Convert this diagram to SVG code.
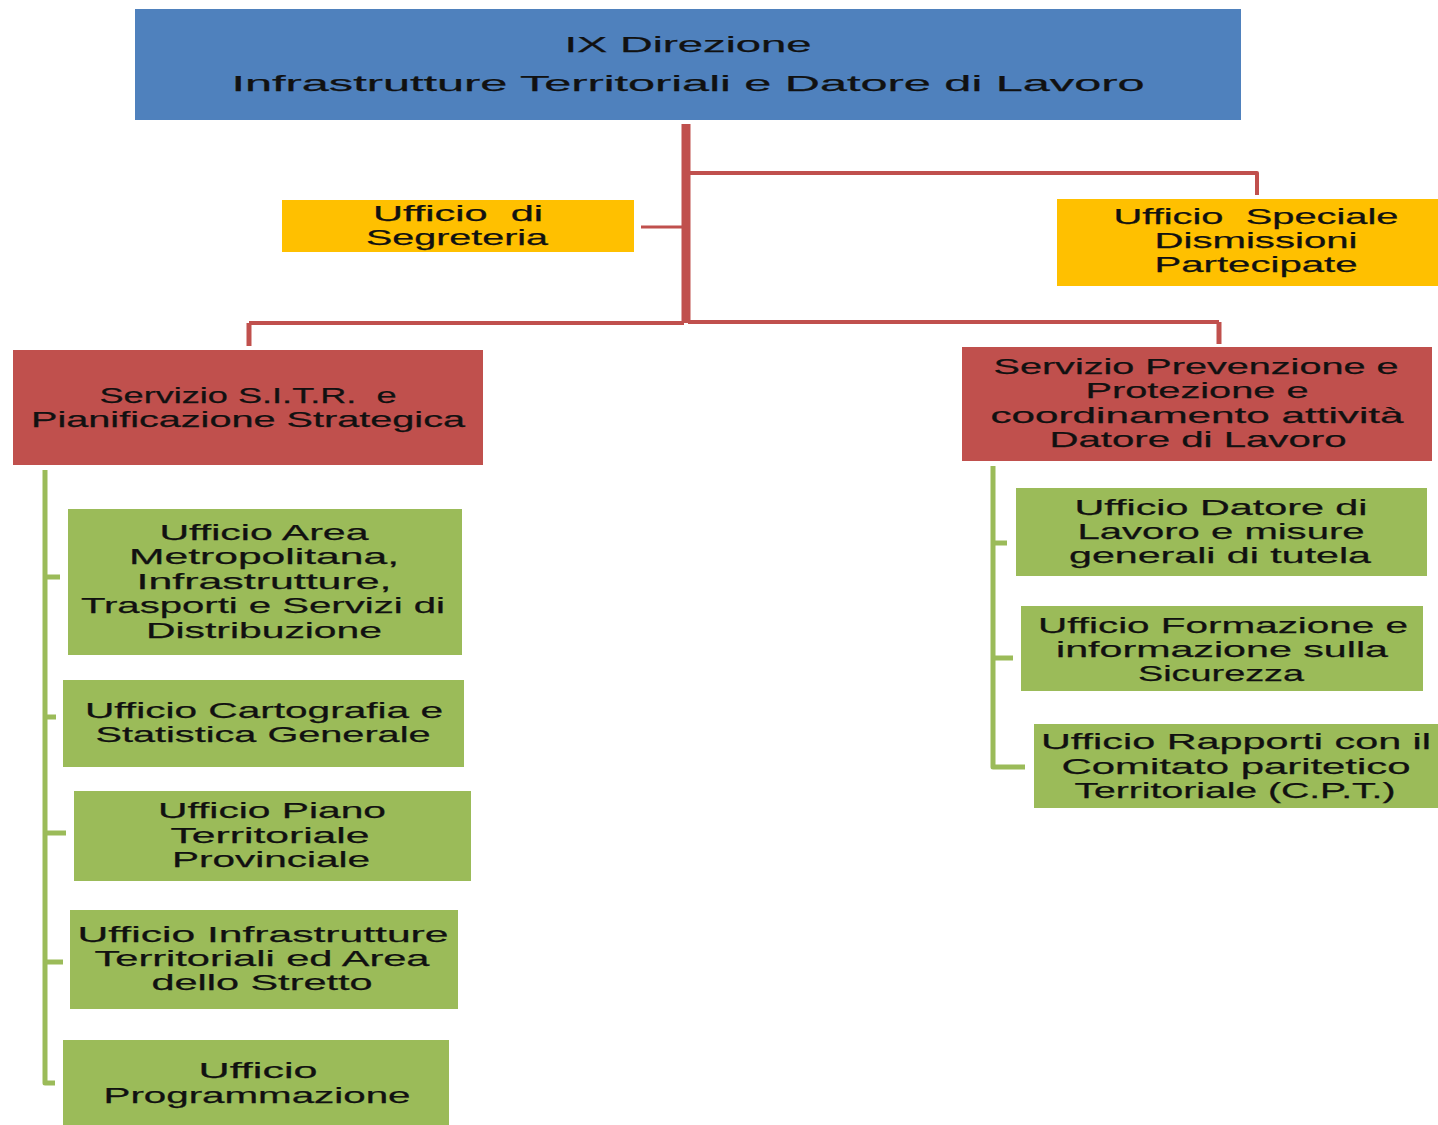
<svg xmlns="http://www.w3.org/2000/svg" width="1438" height="1125" viewBox="0 0 1438 1125">
<style>
.t{font-family:"Liberation Sans","Open Sans",sans-serif;font-size:22px;fill:#111;stroke:#111;stroke-width:0.25;text-anchor:middle;white-space:pre}
.blue{fill:#4f81bd}
.gold{fill:#ffc000}
.red{fill:#c0504d}
.green{fill:#9bbb59}
.rc{fill:none;stroke:#c0504d;stroke-linejoin:round}
.gc{fill:none;stroke:#9bbb59;stroke-width:5;stroke-linejoin:round}
</style>
<rect width="1438" height="1125" fill="#fff"/>
<g id="connectors">
<path class="rc" stroke-width="9" d="M686 124V323"/>
<path class="rc" stroke-width="4" d="M690 173H1257V195"/>
<path class="rc" stroke-width="3" d="M641 227H682"/>
<path class="rc" stroke-width="4" d="M684 323H249"/>
<path class="rc" stroke-width="5" d="M249 323V346"/>
<path class="rc" stroke-width="4" d="M688 322H1219"/>
<path class="rc" stroke-width="5" d="M1219 322V344"/>
<path class="gc" d="M45 470V1083H55"/>
<path class="gc" d="M45 577H60M45 717H56M45 833H66M45 962H63"/>
<path class="gc" d="M993 466V767H1025"/>
<path class="gc" d="M993 543H1007M993 658H1013"/>
</g>
<g id="direzione">
<rect class="blue" x="135" y="9" width="1106" height="111"/>
<text class="t" x="688" y="52" textLength="247" lengthAdjust="spacingAndGlyphs">IX Direzione</text>
<text class="t" x="688" y="91" textLength="913" lengthAdjust="spacingAndGlyphs">Infrastrutture Territoriali e Datore di Lavoro</text>
</g>
<g id="segreteria">
<rect class="gold" x="282" y="200" width="352" height="52"/>
<text class="t" x="458" y="221" textLength="170" lengthAdjust="spacingAndGlyphs" xml:space="preserve">Ufficio  di</text>
<text class="t" x="457" y="245" textLength="182" lengthAdjust="spacingAndGlyphs">Segreteria</text>
</g>
<g id="speciale">
<rect class="gold" x="1057" y="199" width="381" height="87"/>
<text class="t" x="1256" y="224" textLength="285" lengthAdjust="spacingAndGlyphs" xml:space="preserve">Ufficio  Speciale</text>
<text class="t" x="1256" y="248" textLength="203" lengthAdjust="spacingAndGlyphs">Dismissioni</text>
<text class="t" x="1256" y="272" textLength="203" lengthAdjust="spacingAndGlyphs">Partecipate</text>
</g>
<g id="sitr">
<rect class="red" x="13" y="350" width="470" height="115"/>
<text class="t" x="248" y="403" textLength="297" lengthAdjust="spacingAndGlyphs" xml:space="preserve">Servizio S.I.T.R.  e</text>
<text class="t" x="248" y="427" textLength="434" lengthAdjust="spacingAndGlyphs">Pianificazione Strategica</text>
</g>
<g id="prevenzione">
<rect class="red" x="962" y="347" width="470" height="114"/>
<text class="t" x="1196" y="374" textLength="405" lengthAdjust="spacingAndGlyphs">Servizio Prevenzione e</text>
<text class="t" x="1197" y="398" textLength="223" lengthAdjust="spacingAndGlyphs">Protezione e</text>
<text class="t" x="1197" y="423" textLength="413" lengthAdjust="spacingAndGlyphs">coordinamento attività</text>
<text class="t" x="1198" y="447" textLength="297" lengthAdjust="spacingAndGlyphs">Datore di Lavoro</text>
</g>
<g id="area-metropolitana">
<rect class="green" x="68" y="509" width="394" height="146"/>
<text class="t" x="264" y="540" textLength="209" lengthAdjust="spacingAndGlyphs">Ufficio Area</text>
<text class="t" x="264" y="564" textLength="270" lengthAdjust="spacingAndGlyphs">Metropolitana,</text>
<text class="t" x="264" y="589" textLength="255" lengthAdjust="spacingAndGlyphs">Infrastrutture,</text>
<text class="t" x="263" y="613" textLength="364" lengthAdjust="spacingAndGlyphs">Trasporti e Servizi di</text>
<text class="t" x="264" y="638" textLength="236" lengthAdjust="spacingAndGlyphs">Distribuzione</text>
</g>
<g id="cartografia">
<rect class="green" x="63" y="680" width="401" height="87"/>
<text class="t" x="264" y="718" textLength="358" lengthAdjust="spacingAndGlyphs">Ufficio Cartografia e</text>
<text class="t" x="263" y="742" textLength="335" lengthAdjust="spacingAndGlyphs">Statistica Generale</text>
</g>
<g id="piano-territoriale">
<rect class="green" x="74" y="791" width="397" height="90"/>
<text class="t" x="272" y="818" textLength="228" lengthAdjust="spacingAndGlyphs">Ufficio Piano</text>
<text class="t" x="270" y="843" textLength="199" lengthAdjust="spacingAndGlyphs">Territoriale</text>
<text class="t" x="271" y="867" textLength="198" lengthAdjust="spacingAndGlyphs">Provinciale</text>
</g>
<g id="infrastrutture-stretto">
<rect class="green" x="70" y="910" width="388" height="99"/>
<text class="t" x="263" y="942" textLength="371" lengthAdjust="spacingAndGlyphs">Ufficio Infrastrutture</text>
<text class="t" x="262" y="966" textLength="335" lengthAdjust="spacingAndGlyphs">Territoriali ed Area</text>
<text class="t" x="262" y="990" textLength="221" lengthAdjust="spacingAndGlyphs">dello Stretto</text>
</g>
<g id="programmazione">
<rect class="green" x="63" y="1040" width="386" height="85"/>
<text class="t" x="258" y="1078" textLength="119" lengthAdjust="spacingAndGlyphs">Ufficio</text>
<text class="t" x="257" y="1103" textLength="307" lengthAdjust="spacingAndGlyphs">Programmazione</text>
</g>
<g id="datore-lavoro">
<rect class="green" x="1016" y="488" width="411" height="88"/>
<text class="t" x="1221" y="515" textLength="293" lengthAdjust="spacingAndGlyphs">Ufficio Datore di</text>
<text class="t" x="1221" y="539" textLength="287" lengthAdjust="spacingAndGlyphs">Lavoro e misure</text>
<text class="t" x="1220" y="563" textLength="302" lengthAdjust="spacingAndGlyphs">generali di tutela</text>
</g>
<g id="formazione">
<rect class="green" x="1021" y="606" width="402" height="85"/>
<text class="t" x="1223" y="633" textLength="370" lengthAdjust="spacingAndGlyphs">Ufficio Formazione e</text>
<text class="t" x="1222" y="657" textLength="332" lengthAdjust="spacingAndGlyphs">informazione sulla</text>
<text class="t" x="1221" y="681" textLength="166" lengthAdjust="spacingAndGlyphs">Sicurezza</text>
</g>
<g id="rapporti-cpt">
<rect class="green" x="1034" y="724" width="404" height="84"/>
<text class="t" x="1236" y="749" textLength="390" lengthAdjust="spacingAndGlyphs">Ufficio Rapporti con il</text>
<text class="t" x="1236" y="774" textLength="349" lengthAdjust="spacingAndGlyphs">Comitato paritetico</text>
<text class="t" x="1235" y="798" textLength="321" lengthAdjust="spacingAndGlyphs">Territoriale (C.P.T.)</text>
</g>
</svg>
